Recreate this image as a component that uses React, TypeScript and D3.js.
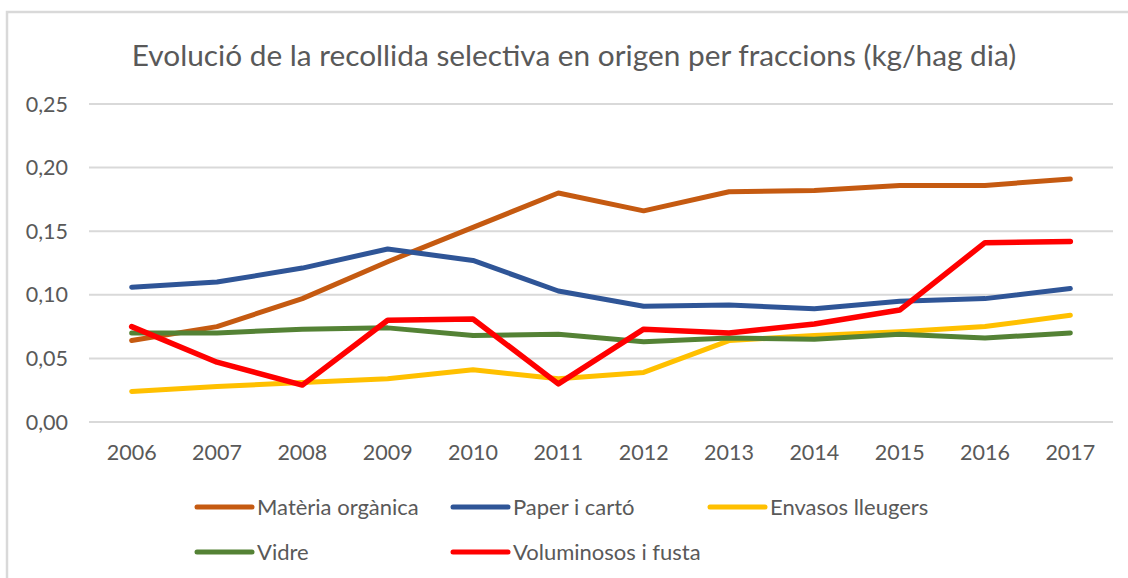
import React, { useEffect, useRef } from "react";
import * as d3 from "d3";

const years = ["2006", "2007", "2008", "2009", "2010", "2011", "2012", "2013", "2014", "2015", "2016", "2017"];

const materiaOrganica = [0.064, 0.075, 0.097, 0.126, 0.153, 0.18, 0.166, 0.181, 0.182, 0.186, 0.186, 0.191];
const paperCarto = [0.106, 0.11, 0.121, 0.136, 0.127, 0.103, 0.091, 0.092, 0.089, 0.095, 0.097, 0.105];
const envasos = [0.024, 0.028, 0.031, 0.034, 0.041, 0.034, 0.039, 0.064, 0.068, 0.071, 0.075, 0.084];
const vidre = [0.07, 0.07, 0.073, 0.074, 0.068, 0.069, 0.063, 0.066, 0.065, 0.069, 0.066, 0.07];
const voluminosos = [0.075, 0.047, 0.029, 0.08, 0.081, 0.03, 0.073, 0.07, 0.077, 0.088, 0.141, 0.142];

const yTicks = [0, 0.05, 0.1, 0.15, 0.2, 0.25];

const title = "Evolució de la recollida selectiva en origen per fraccions (kg/hag dia)";

const series = [
  { name: "Matèria orgànica", values: materiaOrganica, color: "#C55A11" },
  { name: "Paper i cartó", values: paperCarto, color: "#2F5597" },
  { name: "Envasos lleugers", values: envasos, color: "#FFC000" },
  { name: "Vidre", values: vidre, color: "#548235" },
  { name: "Voluminosos i fusta", values: voluminosos, color: "#FF0000" },
];

const width = 1128,
  height = 578;
const margin = { top: 104, right: 15, bottom: 156, left: 89 };
const font = "Lato, 'Open Sans', sans-serif";
const textColor = "#595959";

const App = () => {
  const ref = useRef<SVGSVGElement>(null);

  useEffect(() => {
    const svg = d3.select(ref.current);
    svg.selectAll("*").remove();

    // chart border (only left and top are visible in the crop)
    svg
      .append("rect")
      .attr("x", 7)
      .attr("y", 12)
      .attr("width", 1140)
      .attr("height", 600)
      .attr("fill", "white")
      .attr("stroke", "#D9D9D9")
      .attr("stroke-width", 2.5);

    svg
      .append("text")
      .attr("x", 574)
      .attr("y", 66)
      .attr("text-anchor", "middle")
      .attr("font-family", font)
      .attr("font-size", 29.8)
      .attr("fill", textColor)
      .text(title);

    const x = d3
      .scaleBand()
      .domain(years)
      .range([margin.left, width - margin.right]);

    const y = d3
      .scaleLinear()
      .domain([0, 0.25])
      .range([height - margin.bottom, margin.top]);

    // gridlines
    svg
      .append("g")
      .selectAll("line")
      .data(yTicks)
      .enter()
      .append("line")
      .attr("x1", margin.left)
      .attr("x2", width - margin.right)
      .attr("y1", (d) => y(d))
      .attr("y2", (d) => y(d))
      .attr("stroke", "#D9D9D9")
      .attr("stroke-width", 2);

    const fmt = (d: number) => d.toFixed(2).replace(".", ",");

    svg
      .append("g")
      .selectAll("text")
      .data(yTicks)
      .enter()
      .append("text")
      .attr("x", 68)
      .attr("y", (d) => y(d))
      .attr("dy", "0.35em")
      .attr("text-anchor", "end")
      .attr("font-family", font)
      .attr("font-size", 21.5)
      .attr("fill", textColor)
      .text(fmt);

    svg
      .append("g")
      .selectAll("text")
      .data(years)
      .enter()
      .append("text")
      .attr("x", (d) => x(d)! + x.bandwidth() / 2)
      .attr("y", 460)
      .attr("text-anchor", "middle")
      .attr("font-family", font)
      .attr("font-size", 21.5)
      .attr("fill", textColor)
      .text((d) => d);

    const line = d3
      .line<number>()
      .x((d, i) => x(years[i])! + x.bandwidth() / 2)
      .y((d) => y(d));

    series.forEach((s) => {
      svg
        .append("path")
        .datum(s.values)
        .attr("d", line)
        .attr("fill", "none")
        .attr("stroke", s.color)
        .attr("stroke-width", s.color === "#FF0000" ? 5.5 : 5)
        .attr("stroke-linejoin", "round")
        .attr("stroke-linecap", "round");
    });

    // legend
    const legendPos = [
      { x: 197, y: 507 },
      { x: 453, y: 507 },
      { x: 710, y: 507 },
      { x: 197, y: 552 },
      { x: 453, y: 552 },
    ];
    const legend = svg.append("g");
    series.forEach((s, i) => {
      const p = legendPos[i];
      legend
        .append("line")
        .attr("x1", p.x)
        .attr("x2", p.x + 55)
        .attr("y1", p.y)
        .attr("y2", p.y)
        .attr("stroke", s.color)
        .attr("stroke-width", 5)
        .attr("stroke-linecap", "round");
      legend
        .append("text")
        .attr("x", p.x + 60)
        .attr("y", p.y)
        .attr("dy", "0.35em")
        .attr("font-family", font)
        .attr("font-size", 22)
        .attr("fill", textColor)
        .text(s.name);
    });
  }, []);

  return (
    <svg
      ref={ref}
      width={width}
      height={height}
      style={{ position: "absolute", left: 0, top: 0, background: "white" }}
    />
  );
};

export default App;
